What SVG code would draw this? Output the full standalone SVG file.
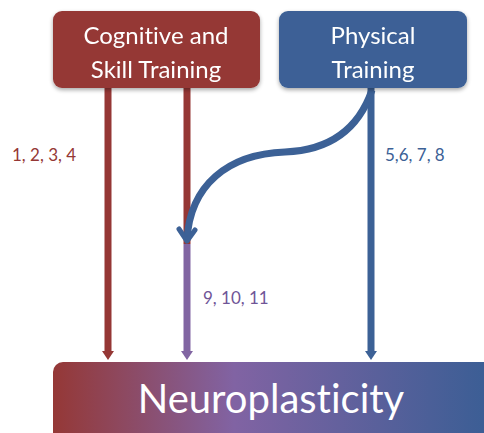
<svg xmlns="http://www.w3.org/2000/svg" width="484" height="433" viewBox="0 0 484 433">
  <defs>
    <style>
      .box-text { font-family: Lato, "Open Sans", "Liberation Sans", sans-serif; fill: #ffffff; text-anchor: middle; font-variant-ligatures: none; }
      .label { font-family: Lato, "Open Sans", "Liberation Sans", sans-serif; font-size: 17px; }
      .line { fill: none; stroke-width: 7; }
    </style>
    <linearGradient id="neuroGrad" x1="53" y1="0" x2="484" y2="0" gradientUnits="userSpaceOnUse">
      <stop offset="0" stop-color="#953836"/>
      <stop offset="0.42" stop-color="#8163a3"/>
      <stop offset="1" stop-color="#3c5e95"/>
    </linearGradient>
    <filter id="shadow" x="-10%" y="-10%" width="120%" height="130%">
      <feGaussianBlur in="SourceAlpha" stdDeviation="2"/>
      <feOffset dx="0" dy="2" result="b"/>
      <feComponentTransfer><feFuncA type="linear" slope="0.35"/></feComponentTransfer>
      <feMerge><feMergeNode/><feMergeNode in="SourceGraphic"/></feMerge>
    </filter>
  </defs>

  <!-- connectors -->
  <g id="connectors">
    <line class="line" x1="108" y1="88" x2="108" y2="352" stroke="#953735"/>
    <path d="M102,351 L114,351 L108,360 Z" fill="#953735"/>
    <line class="line" x1="187" y1="88" x2="187" y2="244" stroke="#953735"/>
    <line class="line" x1="187" y1="244" x2="187" y2="352" stroke="#8165a2"/>
    <path d="M181,351 L193,351 L187,360 Z" fill="#8165a2"/>
    <line class="line" x1="371" y1="88" x2="371" y2="352" stroke="#3c6196"/>
    <path d="M365,351 L377,351 L371,360 Z" fill="#3c6196"/>
    <path class="line" d="M372,90 C360,125 335,150 285,152 C228,154 190,185 187,240" stroke="#3c6196" stroke-width="5"/>
    <path d="M179,229 L187,241 L195,230" fill="none" stroke="#3c6196" stroke-width="5" stroke-linecap="round" stroke-linejoin="round"/>
  </g>

  <!-- edge labels -->
  <text class="label" x="12" y="161" fill="#953735">1, 2, 3, 4</text>
  <text class="label" x="385" y="161" fill="#3c6196">5,6, 7, 8</text>
  <text class="label" x="203" y="304" fill="#6f5597">9, 10, 11</text>

  <g id="cognitive" filter="url(#shadow)">
    <rect x="53" y="11" width="207" height="77" rx="9" fill="#953735"/>
    <text class="box-text" x="156" y="44" font-size="24">Cognitive and</text>
    <text class="box-text" x="156" y="78" font-size="24">Skill Training</text>
  </g>

  <g id="physical" filter="url(#shadow)">
    <rect x="279" y="11" width="188" height="77" rx="9" fill="#3c6196"/>
    <text class="box-text" x="373" y="44" font-size="24">Physical</text>
    <text class="box-text" x="373" y="78" font-size="24">Training</text>
  </g>

  <g id="neuroplasticity">
    <rect x="53" y="362" width="450" height="90" rx="10" fill="url(#neuroGrad)"/>
    <text class="box-text" x="271" y="413" font-size="40">Neuroplasticity</text>
  </g>
</svg>
